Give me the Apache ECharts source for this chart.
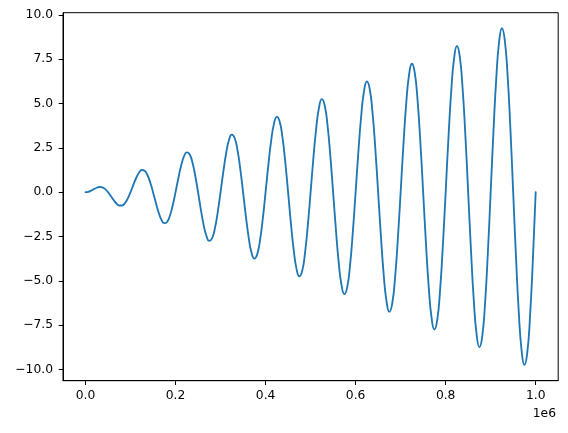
<!DOCTYPE html>
<html>
<head>
<meta charset="utf-8">
<script src="https://cdn.jsdelivr.net/npm/echarts@6/dist/echarts.min.js"></script>
<style>
html,body{margin:0;padding:0;background:#fff;}
#chart{width:568px;height:433px;}
</style>
</head>
<body>
<div id="chart"></div>
<script>
// x positions (raw units) of the sampled points
const xValues = [
  0, 6250, 12500, 18750, 25000, 31250, 37500, 43750, 50000, 56250, 62500, 68750, 75000, 81250, 87500, 93750,
  100000, 106250, 112500, 118750, 125000, 131250, 137500, 143750, 150000, 156250, 162500, 168750, 175000, 181250, 187500, 193750,
  200000, 206250, 212500, 218750, 225000, 231250, 237500, 243750, 250000, 256250, 262500, 268750, 275000, 281250, 287500, 293750,
  300000, 306250, 312500, 318750, 325000, 331250, 337500, 343750, 350000, 356250, 362500, 368750, 375000, 381250, 387500, 393750,
  400000, 406250, 412500, 418750, 425000, 431250, 437500, 443750, 450000, 456250, 462500, 468750, 475000, 481250, 487500, 493750,
  500000, 506250, 512500, 518750, 525000, 531250, 537500, 543750, 550000, 556250, 562500, 568750, 575000, 581250, 587500, 593750,
  600000, 606250, 612500, 618750, 625000, 631250, 637500, 643750, 650000, 656250, 662500, 668750, 675000, 681250, 687500, 693750,
  700000, 706250, 712500, 718750, 725000, 731250, 737500, 743750, 750000, 756250, 762500, 768750, 775000, 781250, 787500, 793750,
  800000, 806250, 812500, 818750, 825000, 831250, 837500, 843750, 850000, 856250, 862500, 868750, 875000, 881250, 887500, 893750,
  900000, 906250, 912500, 918750, 925000, 931250, 937500, 943750, 950000, 956250, 962500, 968750, 975000, 981250, 987500, 993750,
  1000000
];
// y values
const yValues = [
  0, 0.02, 0.09, 0.17, 0.25, 0.29, 0.27, 0.17, 0, -0.22, -0.44, -0.64, -0.75, -0.75, -0.62, -0.36,
  0, 0.41, 0.80, 1.10, 1.25, 1.21, 0.97, 0.55, 0, -0.60, -1.15, -1.56, -1.75, -1.68, -1.33, -0.74,
  0, 0.79, 1.50, 2.02, 2.25, 2.14, 1.68, 0.93, 0, -0.98, -1.86, -2.48, -2.75, -2.60, -2.03, -1.12,
  0, 1.17, 2.21, 2.95, 3.25, 3.06, 2.39, 1.32, 0, -1.36, -2.56, -3.41, -3.75, -3.52, -2.74, -1.51,
  0, 1.56, 2.92, 3.87, 4.25, 3.99, 3.09, 1.70, 0, -1.75, -3.27, -4.33, -4.75, -4.45, -3.45, -1.89,
  0, 1.94, 3.62, 4.79, 5.25, 4.91, 3.80, 2.08, 0, -2.13, -3.98, -5.26, -5.75, -5.37, -4.16, -2.27,
  0, 2.32, 4.33, 5.72, 6.25, 5.83, 4.51, 2.46, 0, -2.51, -4.69, -6.18, -6.75, -6.29, -4.86, -2.66,
  0, 2.70, 5.04, 6.64, 7.25, 6.76, 5.22, 2.85, 0, -2.89, -5.39, -7.10, -7.75, -7.22, -5.57, -3.04,
  0, 3.09, 5.75, 7.56, 8.25, 7.68, 5.92, 3.23, 0, -3.28, -6.10, -8.03, -8.75, -8.14, -6.28, -3.42,
  0, 3.47, 6.45, 8.49, 9.25, 8.60, 6.63, 3.61, 0, -3.66, -6.81, -8.95, -9.75, -9.07, -6.98, -3.80,
  0
];
const xTicks = [0, 200000, 400000, 600000, 800000, 1000000];
const yTicks = [-10, -7.5, -5, -2.5, 0, 2.5, 5, 7.5, 10];

const seriesData = xValues.map((x, i) => [x, yValues[i]]);
const FONT = 'DejaVu Sans';
const FS = 12.3;
const minus = v => (v < 0 ? '\u2212' + Math.abs(v).toFixed(1) : v.toFixed(1));

const chart = echarts.init(document.getElementById('chart'), null, {renderer: 'canvas'});
chart.setOption({
  animation: false,
  backgroundColor: '#ffffff',
  grid: {
    left: 63, right: 9.8, top: 12.7, bottom: 52.3,
    show: true, borderColor: '#000', borderWidth: 1, backgroundColor: 'transparent'
  },
  xAxis: {
    type: 'value',
    min: -50000, max: 1050000,
    axisLine: {show: true, onZero: false, lineStyle: {color: '#000', width: 1}},
    axisTick: {show: true, customValues: xTicks, length: 4.3, lineStyle: {color: '#000', width: 1}},
    axisLabel: {
      customValues: xTicks, margin: 9.5,
      fontFamily: FONT, fontSize: FS, color: '#000',
      formatter: v => minus(v / 1e6)
    },
    splitLine: {show: false}
  },
  yAxis: {
    type: 'value',
    min: -10.64, max: 10.13,
    axisLine: {show: true, onZero: false, lineStyle: {color: '#000', width: 1}},
    axisTick: {show: true, customValues: yTicks, length: 4.3, lineStyle: {color: '#000', width: 1}},
    axisLabel: {
      customValues: yTicks, margin: 10,
      fontFamily: FONT, fontSize: FS, color: '#000',
      formatter: v => minus(v)
    },
    splitLine: {show: false}
  },
  graphic: [{
    type: 'text', right: 12, top: 408,
    style: {text: '1e6', font: FS + 'px "' + FONT + '"', fill: '#000'}
  }],
  series: [{
    type: 'line',
    data: seriesData,
    smooth: 0.5,
    showSymbol: false,
    lineStyle: {color: '#1f77b4', width: 1.85, join: 'round', cap: 'round'},
    z: 3
  }]
});
</script>
</body>
</html>
